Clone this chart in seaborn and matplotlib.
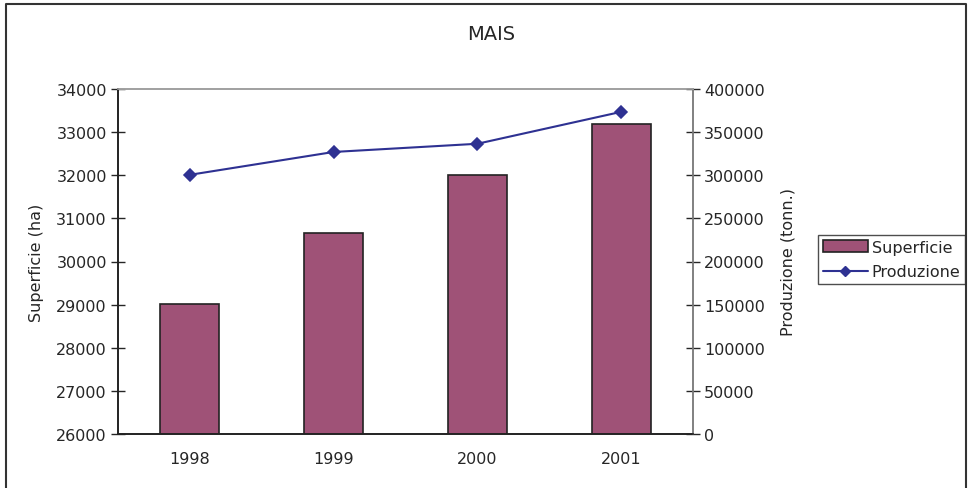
import numpy as np
import pandas as pd
import matplotlib
matplotlib.use("Agg")
from matplotlib import pyplot as plt
from matplotlib.lines import Line2D
from matplotlib.patches import Patch
import seaborn as sns

#
# Data
#
anni = ["1998", "1999", "2000", "2001"]
superficie = [29020, 30660, 32000, 33180]       # ha
produzione = [300500, 327000, 336500, 373500]   # tonn.

bar_color = "#9F5277"
line_color = "#2E3192"

sns.set_style("white")
plt.rcParams["font.family"] = ["DejaVu Sans"]
plt.rcParams["font.size"] = 11.5

df = pd.DataFrame({"Anno": anni, "Superficie": superficie, "Produzione": produzione})

fig = plt.figure(figsize=(9.71, 4.89), dpi=100)
ax = fig.add_axes([118 / 971, 54 / 489, 575 / 971, 345 / 489])

sns.barplot(data=df, x="Anno", y="Superficie", ax=ax, color=bar_color,
            width=0.41, edgecolor="#222222", linewidth=1.2, saturation=1)
ax.set_ylim(26000, 34000)
ax.set_xlim(-0.5, 3.5)
ax.set_yticks(np.arange(26000, 34001, 1000))
ax.set_xlabel("")
ax.set_ylabel("Superficie (ha)", fontsize=11.5, labelpad=9)

ax2 = ax.twinx()
sns.pointplot(data=df, x="Anno", y="Produzione", ax=ax2, color=line_color,
              markers="D", markersize=6, linewidth=1.5, errorbar=None)
ax2.set_ylim(0, 400000)
ax2.set_xlim(-0.5, 3.5)
ax2.set_yticks(np.arange(0, 400001, 50000))
ax2.set_xlabel("")
ax2.set_ylabel("Produzione (tonn.)", fontsize=11.5, labelpad=11)

# spines like the old spreadsheet style
for a in (ax, ax2):
    for s in a.spines.values():
        s.set_linewidth(1.2)
    a.spines["top"].set_color("#A0A0A0")
    a.spines["right"].set_color("#808080")
    a.spines["left"].set_color("#222222")
    a.spines["bottom"].set_color("#222222")

ax.tick_params(axis="y", direction="inout", length=10, width=1, labelsize=11.5, pad=3)
ax2.tick_params(axis="y", direction="inout", length=10, width=1, labelsize=11.5, pad=3)
ax.tick_params(axis="x", which="major", length=0, labelsize=11.5, pad=12)
ax.set_xticks([0.5, 1.5, 2.5], minor=True)
ax.tick_params(axis="x", which="minor", direction="inout", length=10, width=1)

fig.text(491 / 971, 1 - 34 / 489, "MAIS", ha="center", va="center", fontsize=14)

handles = [Patch(facecolor=bar_color, edgecolor="#222222", linewidth=1.2),
           Line2D([0], [0], color=line_color, marker="D", markersize=5, linewidth=1.5)]
leg = fig.legend(handles, ["Superficie", "Produzione"], loc="upper left",
                 bbox_to_anchor=(818 / 971, 1 - 236 / 489), fontsize=11.5,
                 frameon=True, fancybox=False, borderpad=0.3, handlelength=2.8,
                 handleheight=0.8, handletextpad=0.25, labelspacing=0.6,
                 borderaxespad=0)
leg.get_frame().set_edgecolor("#222222")
leg.get_frame().set_linewidth(1)

# frame around the chart (open at the bottom, as cropped)
fig.add_artist(Line2D([6 / 971, 6 / 971, 966 / 971, 966 / 971],
                      [0, 1 - 5 / 489, 1 - 5 / 489, 0],
                      transform=fig.transFigure, color="#333333", linewidth=1.5))

plt.savefig("out.png", dpi=100)
